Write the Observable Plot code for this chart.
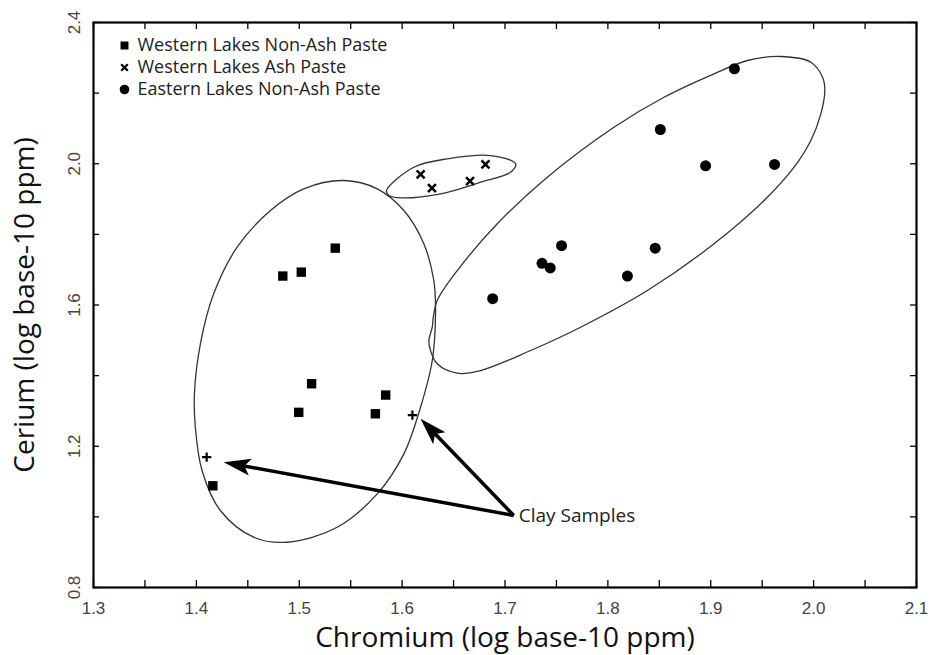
<!DOCTYPE html>
<html>
<head>
<meta charset="utf-8">
<script src="https://cdn.jsdelivr.net/npm/d3@7"></script>
<script src="https://cdn.jsdelivr.net/npm/@observablehq/plot@0.6"></script>
<style>
  html, body { margin: 0; padding: 0; background: #fff; }
  #chart svg { display: block; }
</style>
</head>
<body>
<div id="chart"></div>
<script>
// ---------- data (log10 ppm) ----------
const westNonAshCr = [1.535, 1.484, 1.502, 1.512, 1.4995, 1.584, 1.574, 1.416];
const westNonAshCe = [1.761, 1.682, 1.693, 1.377, 1.296, 1.345, 1.292, 1.088];

const westAshCr = [1.618, 1.629, 1.666, 1.681];
const westAshCe = [1.970, 1.931, 1.951, 1.998];

const eastNonAshCr = [1.923, 1.851, 1.895, 1.962, 1.755, 1.736, 1.744, 1.846, 1.819, 1.688];
const eastNonAshCe = [2.269, 2.097, 1.994, 1.998, 1.768, 1.718, 1.705, 1.761, 1.682, 1.618];

const clayCr = [1.410, 1.610];
const clayCe = [1.169, 1.288];

// group outlines
const leftOutlineCr = [1.5433,1.5758,1.6017,1.6211,1.6308,1.6325,1.6293,1.6179,1.6017,1.5758,1.5369,1.4882,1.4557,1.4233,1.4055,1.3990,1.3981,1.4039,1.4168,1.4396,1.4720,1.5044];
const leftOutlineCe = [1.9525,1.9290,1.8676,1.7733,1.6693,1.5844,1.4428,1.3105,1.1785,1.0653,0.9707,0.9282,0.9424,1.0180,1.1312,1.2539,1.3485,1.4901,1.6317,1.7636,1.8676,1.9290];

const ashOutlineCr = [1.5848,1.6114,1.6439,1.6860,1.7103,1.7054,1.6763,1.6374,1.5984,1.5871];
const ashOutlineCe = [1.9242,1.9902,2.0140,2.0233,1.9998,1.9760,1.9477,1.9149,1.9035,1.9101];

const eastOutlineCr = [1.9681,1.9973,2.0087,2.0109,2.0070,1.9973,1.9810,1.9519,1.9032,1.8384,1.7735,1.7249,1.6763,1.6536,1.6341,1.6276,1.6260,1.6293,1.6303,1.6341,1.6536,1.6925,1.7411,1.8059,1.8546,1.9032,1.9357];
const eastOutlineCe = [2.3037,2.2876,2.2451,2.2074,2.1414,2.0658,1.9902,1.8959,1.7733,1.6410,1.5371,1.4711,1.4144,1.4068,1.4334,1.4711,1.4994,1.5371,1.5654,1.6127,1.6976,1.8299,1.9619,2.1035,2.1884,2.2547,2.2924];

// annotation
const clayLabel = "Clay Samples";
const clayLabelCr = 1.7085;
const clayLabelCe = 1.004;
const arrowTipCr = [1.4266, 1.6179];
const arrowTipCe = [1.1547, 1.2777];

// legend
const legendLabels = ["Western Lakes Non-Ash Paste", "Western Lakes Ash Paste", "Eastern Lakes Non-Ash Paste"];
const legendSymbols = ["square", "times", "circle"];

// axes
const xDomain = [1.3, 2.1];
const yDomain = [0.8, 2.4];
const xTickValues = [1.3,1.35,1.4,1.45,1.5,1.55,1.6,1.65,1.7,1.75,1.8,1.85,1.9,1.95,2.0,2.05,2.1];
const xLabelValues = [1.3,1.4,1.5,1.6,1.7,1.8,1.9,2.0,2.1];
const xLabelTexts = ["1.3","1.4","1.5","1.6","1.7","1.8","1.9","2.0","2.1"];
const yTickValues = [0.8,1.0,1.2,1.4,1.6,1.8,2.0,2.2,2.4];
const yLabelValues = [0.8,1.2,1.6,2.0,2.4];
const yLabelTexts = ["0.8","1.2","1.6","2.0","2.4"];
const xTitle = "Chromium (log base-10 ppm)";
const yTitle = "Cerium (log base-10 ppm)";

// ---------- build ----------
const W = 933, H = 655;
const M = {marginLeft: 93, marginRight: 17, marginTop: 22, marginBottom: 68};
const innerW = W - M.marginLeft - M.marginRight;
const innerH = H - M.marginTop - M.marginBottom;
const scaleOpts = {x: {domain: xDomain, axis: null}, y: {domain: yDomain, axis: null}};

// first pass: obtain the scales
const base = Plot.plot({width: W, height: H, ...M, ...scaleOpts, marks: [Plot.frame()]});
const sx = base.scale("x"), sy = base.scale("y");

const pts = (xs, ys) => xs.map((x, i) => ({x, y: ys[i]}));
const westNonAsh = pts(westNonAshCr, westNonAshCe);
const westAsh = pts(westAshCr, westAshCe);
const eastNonAsh = pts(eastNonAshCr, eastNonAshCe);
const clay = pts(clayCr, clayCe);
const leftOutline = pts(leftOutlineCr, leftOutlineCe);
const ashOutline = pts(ashOutlineCr, ashOutlineCe);
const eastOutline = pts(eastOutlineCr, eastOutlineCe);

const arrows = arrowTipCr.map((tx, i) => {
  const x1p = sx.apply(clayLabelCr), y1p = sy.apply(clayLabelCe);
  const x2p = sx.apply(tx), y2p = sy.apply(arrowTipCe[i]);
  const dx = x2p - x1p, dy = y2p - y1p, len = Math.hypot(dx, dy);
  const back = 17;
  return {
    x1: clayLabelCr, y1: clayLabelCe, x2: tx, y2: arrowTipCe[i],
    xe: sx.invert(x2p - dx / len * back), ye: sy.invert(y2p - dy / len * back),
    angle: Math.atan2(dy, dx) * 180 / Math.PI
  };
});

const arrowHead = {
  draw(ctx) {
    const L = 27, w = 8.5, n = 21;
    ctx.moveTo(0, 0);
    ctx.lineTo(-L, -w);
    ctx.lineTo(-n, 0);
    ctx.lineTo(-L, w);
    ctx.closePath();
  }
};

// legend positions (pixel offsets from frame corner -> data)
const legendRows = legendLabels.map((label, i) => ({
  label, symbol: legendSymbols[i],
  mx: sx.invert(sx.apply(xDomain[0]) + 31),
  tx: sx.invert(sx.apply(xDomain[0]) + 44),
  y: sy.invert(sy.apply(yDomain[1]) + 23 + i * 22)
}));

const tickFont = {fontFamily: "Liberation Sans, Arial, sans-serif", fontSize: 17, fill: "#444"};

const chart = Plot.plot({
  width: W, height: H, ...M, ...scaleOpts,
  style: {fontFamily: "Open Sans, sans-serif", background: "#fff", color: "#000"},
  marks: [
    // outlines
    Plot.line(leftOutline, {x: "x", y: "y", curve: "catmull-rom-closed", stroke: "#333", strokeWidth: 1.3}),
    Plot.line(ashOutline, {x: "x", y: "y", curve: "catmull-rom-closed", stroke: "#333", strokeWidth: 1.3}),
    Plot.line(eastOutline, {x: "x", y: "y", curve: "catmull-rom-closed", stroke: "#333", strokeWidth: 1.3}),
    // frame & ticks (inward)
    Plot.tickX(xTickValues, {x: d => d, insetTop: innerH - 7, stroke: "#000", strokeWidth: 1.3}),
    Plot.tickX(xTickValues, {x: d => d, insetBottom: innerH - 7, stroke: "#000", strokeWidth: 1.3}),
    Plot.tickY(yTickValues, {y: d => d, insetRight: innerW - 6, stroke: "#000", strokeWidth: 1.3}),
    Plot.tickY(yTickValues, {y: d => d, insetLeft: innerW - 6, stroke: "#000", strokeWidth: 1.3}),
    Plot.frame({stroke: "#000", strokeWidth: 2.2}),
    // tick labels
    Plot.text(xLabelValues, {x: d => d, y: yDomain[0], dy: 21, text: (d, i) => xLabelTexts[i], ...tickFont, letterSpacing: 2}),
    Plot.text(yLabelValues, {x: xDomain[0], y: d => d, dx: -19, rotate: -90, text: (d, i) => yLabelTexts[i], ...tickFont, letterSpacing: 2}),
    // axis titles
    Plot.text([xTitle], {frameAnchor: "bottom", dy: 59, text: d => d, textAnchor: "middle", fontSize: 28, fill: "#111"}),
    Plot.text([yTitle], {frameAnchor: "left", dx: -68, rotate: -90, text: d => d, textAnchor: "middle", fontSize: 28, fill: "#111"}),
    // arrows
    Plot.link(arrows, {x1: "x1", y1: "y1", x2: "xe", y2: "ye", stroke: "#000", strokeWidth: 3.5}),
    Plot.dot(arrows, {x: "x2", y: "y2", symbol: arrowHead, rotate: "angle", r: 5, fill: "#000", stroke: "none"}),
    Plot.text([clayLabel], {x: clayLabelCr, y: clayLabelCe, dx: 5, text: d => d, textAnchor: "start", fontSize: 19, fill: "#222"}),
    // points
    Plot.dot(westNonAsh, {x: "x", y: "y", symbol: "square", r: 5.3, fill: "#000", stroke: "none"}),
    Plot.dot(westAsh, {x: "x", y: "y", symbol: "times", r: 3.7, stroke: "#000", strokeWidth: 2.5}),
    Plot.dot(eastNonAsh, {x: "x", y: "y", symbol: "circle", r: 5.5, fill: "#000", stroke: "none"}),
    Plot.dot(clay, {x: "x", y: "y", symbol: "plus", r: 3.1, stroke: "#000", strokeWidth: 2.2}),
    // legend
    Plot.dot(legendRows.filter(d => d.symbol === "square"), {x: "mx", y: "y", symbol: "square", r: 4.5, fill: "#000", stroke: "none"}),
    Plot.dot(legendRows.filter(d => d.symbol === "times"), {x: "mx", y: "y", symbol: "times", r: 3.1, stroke: "#000", strokeWidth: 2.2}),
    Plot.dot(legendRows.filter(d => d.symbol === "circle"), {x: "mx", y: "y", symbol: "circle", r: 4.8, fill: "#000", stroke: "none"}),
    Plot.text(legendRows, {x: "tx", y: "y", text: "label", textAnchor: "start", fontSize: 18, fill: "#222"})
  ]
});
document.getElementById("chart").appendChild(chart);
</script>
</body>
</html>
